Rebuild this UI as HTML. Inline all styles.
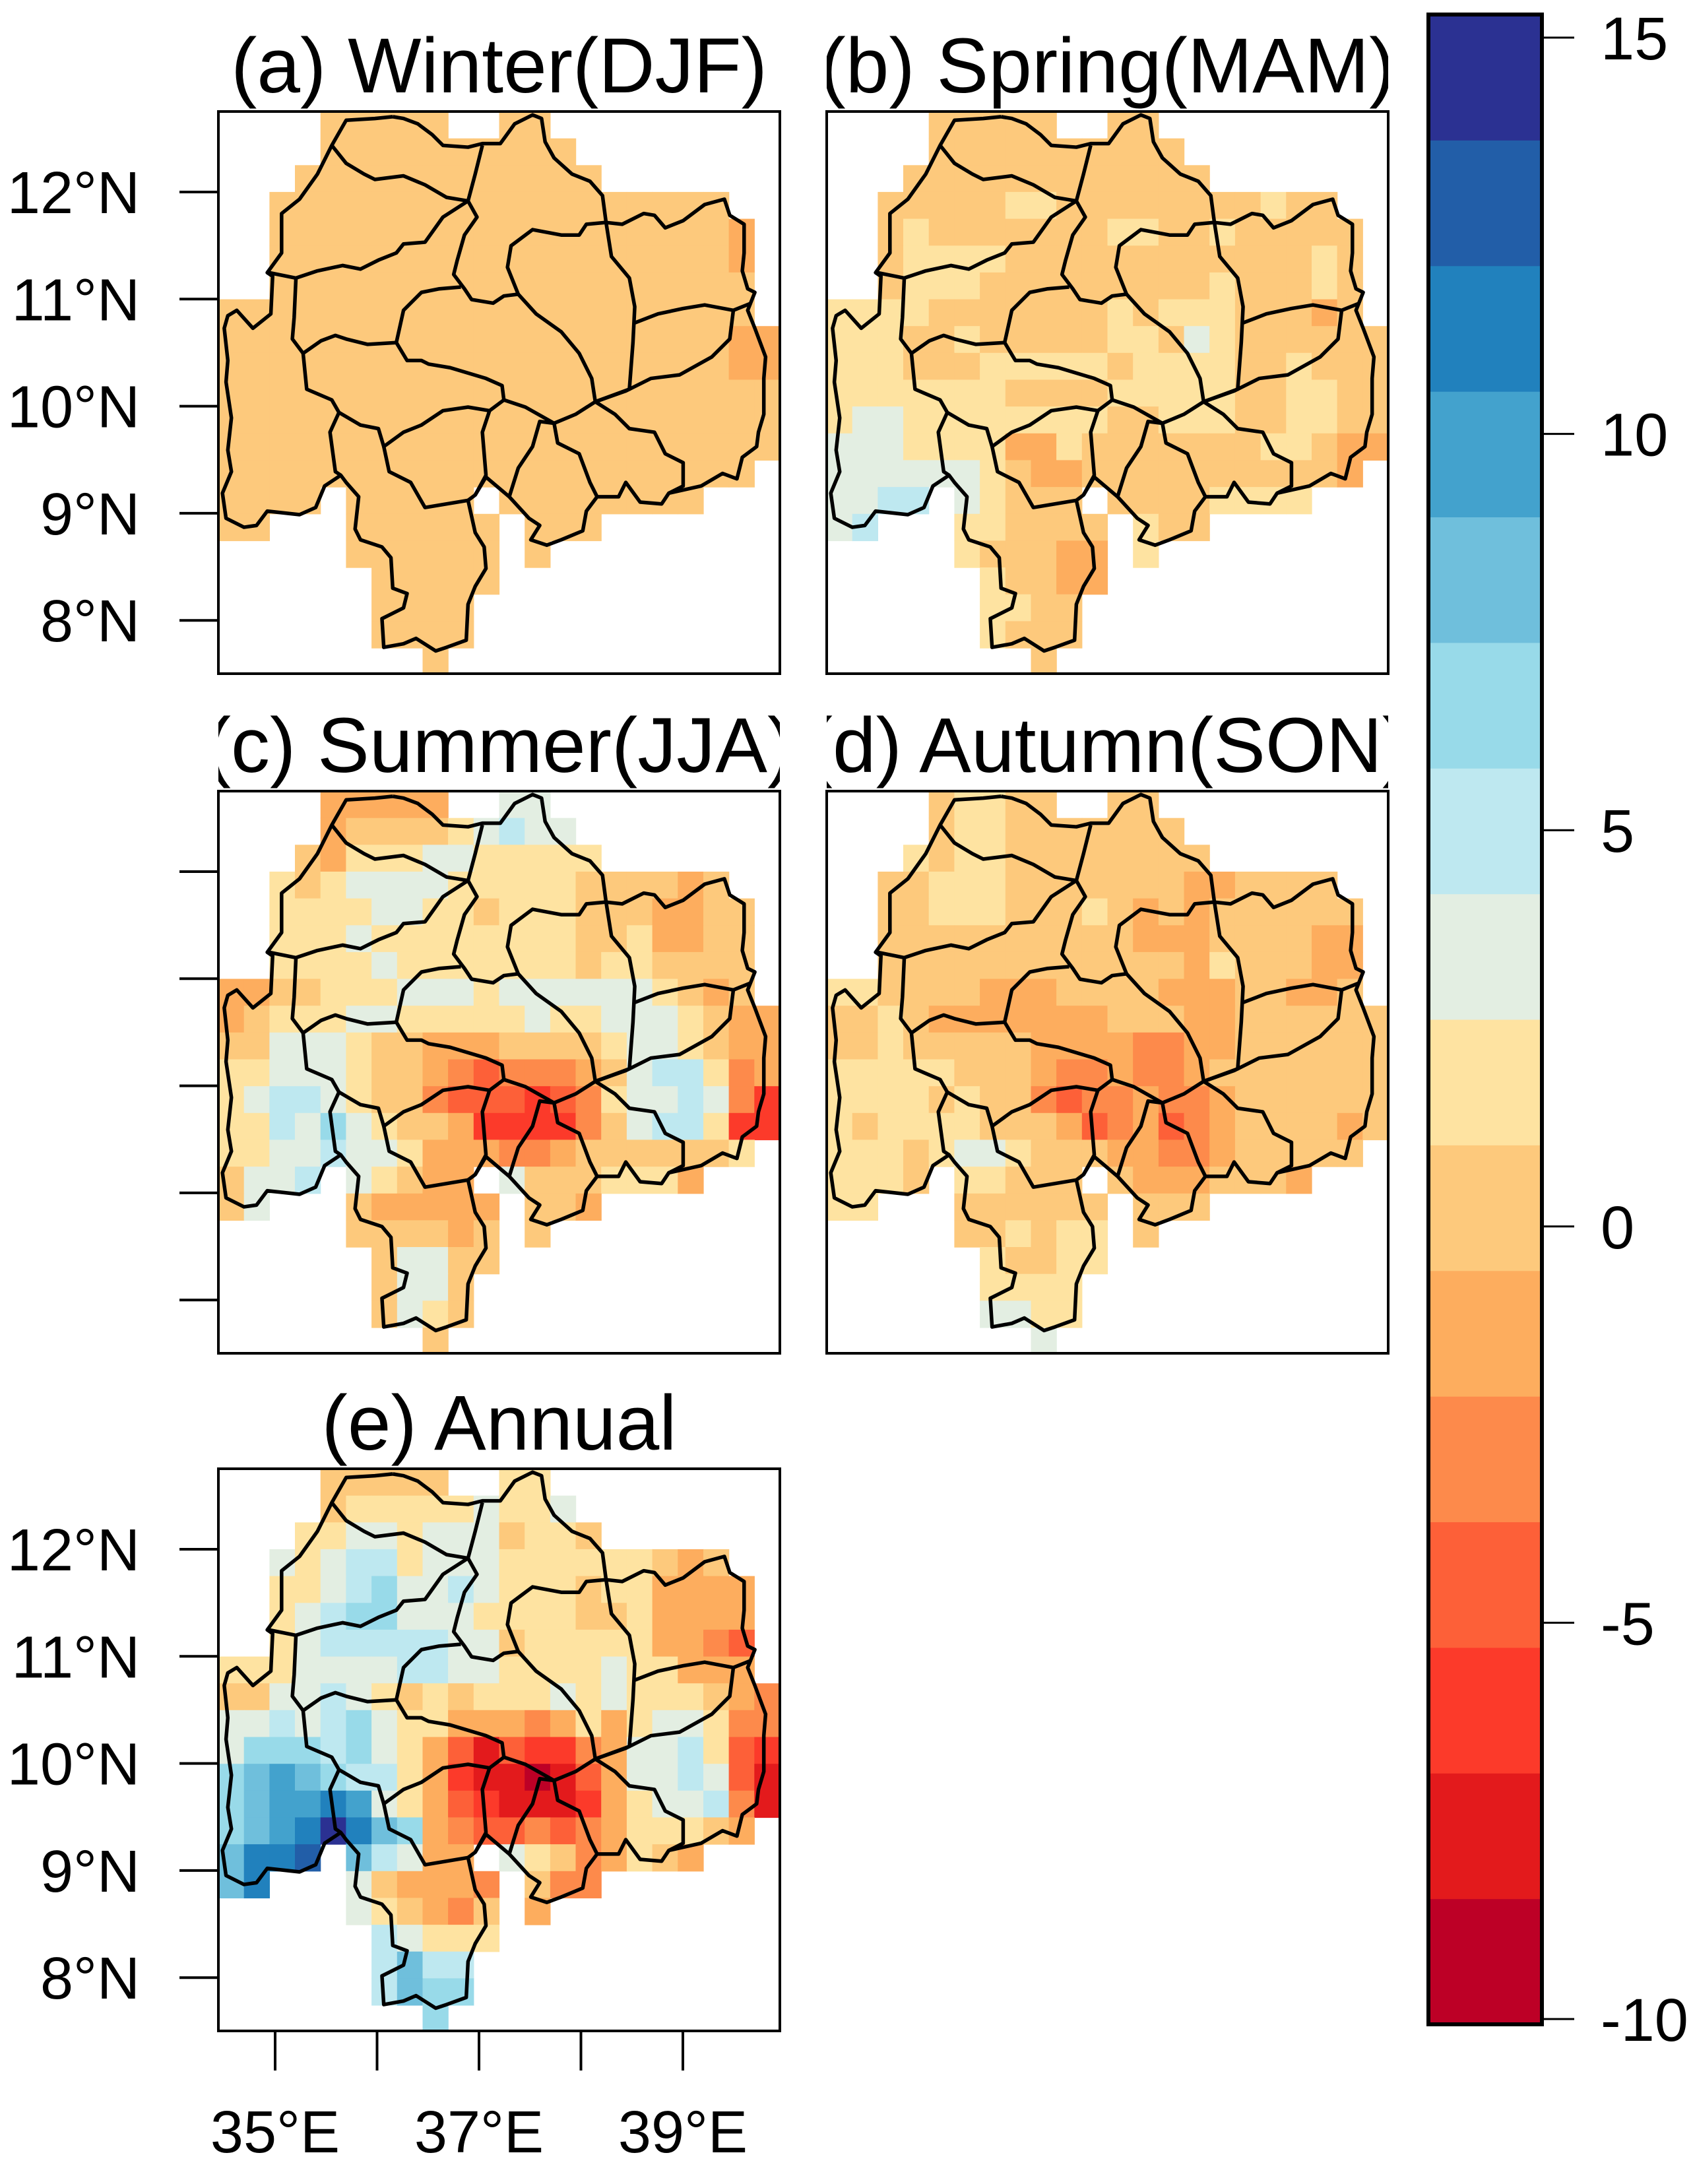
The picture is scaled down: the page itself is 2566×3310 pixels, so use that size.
<!DOCTYPE html>
<html><head><meta charset="utf-8"><title>Seasonal maps</title>
<style>
html,body{margin:0;padding:0;background:#fff;}
svg{display:block;font-family:"Liberation Sans",Arial,sans-serif;}
</style></head>
<body>
<svg id="fig" width="2566" height="3310" viewBox="0 0 2566 3310" xmlns="http://www.w3.org/2000/svg">
<defs>
<g id="basin" fill="none" stroke="#000" stroke-width="5.5" stroke-linejoin="round">
<polyline vector-effect="non-scaling-stroke" points="490,20 520,25 560,40 600,70 630,100 700,105 740,95 790,95 830,40 880,15 905,25 915,90 940,135 990,180 1040,200 1075,240 1085,315 1130,320 1190,290 1220,295 1250,330 1300,310 1360,265 1415,250 1430,295 1470,320 1470,400 1465,450 1480,500 1500,510 1480,560 1500,610 1530,690 1525,750 1525,850 1510,900 1505,940 1465,970 1450,1030 1410,1015 1350,1050 1260,1070 1240,1100 1180,1095 1140,1040 1120,1080 1060,1080 1030,1120 1020,1175 960,1200 920,1215 875,1200 900,1160 870,1140 815,1080 750,1025 720,1075 700,1090 720,1180 745,1220 750,1280 720,1330 700,1380 695,1480 640,1500 610,1510 555,1475 520,1490 465,1500 460,1420 480,1410 520,1390 530,1350 490,1335 485,1250 460,1220 400,1200 385,1170 395,1080 360,1040 345,1020 300,1050 275,1110 230,1130 140,1120 110,1160 75,1165 25,1140 15,1070 40,1010 30,950 40,860 25,760 30,700 20,610 30,575 55,560 100,610 150,570 155,465 140,455 180,400 180,290 230,250 280,180 320,100 360,30 440,25 490,20"/>
<polyline vector-effect="non-scaling-stroke" points="320,100 360,150 410,180 440,195 520,185 580,210 640,245 700,255"/>
<polyline vector-effect="non-scaling-stroke" points="700,255 720,180 740,100"/>
<polyline vector-effect="non-scaling-stroke" points="145,455 220,470 280,450 350,435 400,445 450,420 500,400 520,375 580,370 630,300 700,255"/>
<polyline vector-effect="non-scaling-stroke" points="700,255 725,300 690,350 670,420 660,460 690,500 710,530 770,540 800,520 840,515"/>
<polyline vector-effect="non-scaling-stroke" points="220,470 215,580 210,640 240,680 290,645 330,630 360,640 420,655 500,650"/>
<polyline vector-effect="non-scaling-stroke" points="500,650 520,560 570,510 620,500 680,495"/>
<polyline vector-effect="non-scaling-stroke" points="500,650 530,700 570,700 590,710 650,720 750,750 795,770 800,810"/>
<polyline vector-effect="non-scaling-stroke" points="240,680 250,780 320,810 340,845 400,880 450,890 465,940 520,900 570,880 630,840 700,830 760,840 800,810"/>
<polyline vector-effect="non-scaling-stroke" points="340,845 315,900 330,1010 345,1020"/>
<polyline vector-effect="non-scaling-stroke" points="800,810 860,830 940,875 1000,850 1055,815"/>
<polyline vector-effect="non-scaling-stroke" points="840,515 810,440 820,380 880,335 960,350 1010,350 1030,320 1085,315"/>
<polyline vector-effect="non-scaling-stroke" points="840,515 890,570 960,620 1010,680 1045,750 1055,815"/>
<polyline vector-effect="non-scaling-stroke" points="1085,315 1100,410 1150,470 1165,550 1160,650 1150,780 1055,815"/>
<polyline vector-effect="non-scaling-stroke" points="1165,595 1230,570 1300,555 1360,545 1440,560 1490,540"/>
<polyline vector-effect="non-scaling-stroke" points="1055,815 1140,785 1210,750 1290,740 1380,690 1430,640 1440,560"/>
<polyline vector-effect="non-scaling-stroke" points="1055,815 1110,850 1150,890 1220,900 1250,960 1300,985 1300,1050 1260,1070"/>
<polyline vector-effect="non-scaling-stroke" points="940,875 950,930 1010,960 1040,1040 1060,1080"/>
<polyline vector-effect="non-scaling-stroke" points="940,875 900,870 880,940 840,1000 815,1080"/>
<polyline vector-effect="non-scaling-stroke" points="760,840 740,900 750,1020 720,1075"/>
<polyline vector-effect="non-scaling-stroke" points="465,940 480,1010 540,1040 580,1110 700,1090"/>
</g>
</defs>
<g id="panels"></g>
<g id="cbar"></g>
</svg>
<script>
const palette = ["#bd0026","#e31a1c","#fc3a2a","#fd6038","#fd8a4b","#fdad5e","#fdc97c","#fee3a1","#e3eee2","#bee8f0","#98dae9","#6fbfdc","#43a2cd","#2181bd","#225ea8","#2b3192"];
const classCodes = "abcdefghijklmnop";
const cbarTicks = [15,10,5,0,-5,-10];
const latLabels = ["12°N","11°N","10°N","9°N","8°N"];
const lonTicks = [35,36,37,38,39];
const lonLabels = ["35°E","","37°E","","39°E"];
const titles = ["(a) Winter(DJF)","(b) Spring(MAM)","(c) Summer(JJA)","(d) Autumn(SON)","(e) Annual"];

const gridA = [
"....ggggg..gg.........","....gggggggggg........","...gggggggggggg.......","..gggggggggggggggggg..",
"..ggggggggggggggggggf.","..ggggggggggggggggggf.","..ggggggggggggggggggg.","ggggggggggggggggggggg.",
"ggggggggggggggggggggff","ggggggggggggggggggggff","gggggggggggggggggggggg","gggggggggggggggggggggg",
"gggggggggggggggggggggg","ggggggggggggggggggggg.","gggg.ggggg.gggggggg...","gg...gggggg.ggg.......",
".....gggggg.g.........","......ggggg...........","......gggg............","......gggg............","........g............."];
const gridB = [
"....ggggg..gg.........","....gggggggggg........","...gggggggggggg.......","..ggggghhgggggggghgg..",
"..ghggggggghhgghggggg.","..ghhhhgggggggggggghg.","..ghhhggggggggghggghg.","hhhhggggggghghhhgggfg.",
"hhhgghggggghhgihgggggg","hhhggghhhhhghhhhgghggg","hhhhhhhgggghhhhhgghhgg","hiihhhhhhhhgghhhgghhgg",
"iiihhhhffhggggggghhgff","iiiiiihgffggggggggggf.","iijj.ihggg.gggghhhh...","ij...hhgggg.hgg.......",
".....hgggff.h.........","......hggff...........","......hhgg............","......hggg............","........g............."];
const gridC = [
"....fffff..ii.........","....fgggghijii........","...gfhhhiihhhhh.......","..hghiiiihhhhhggggfg..",
"..hhhhiihhghhhgggffgg.","..hhhihhhhhhhhgghffgg.","..hhhhihhhhhhhghhgggg.","ffgghhhiiihiiiiiihgfg.",
"fghhhiihhhhhihhiiihgff","ggiiihggfffgggghiihgff","hhiiihggfedeeefgijjhef","hijjihggedddcdehiijiec",
"hhjikihggfccccegijjhcc","hhiijiihfffeefggggggh.","giij.ihgff.iggghhhf...","gi...gfffff.ggf.......",
".....ggggfg.g.........","......giigg...........","......giig............","......gihg............","........g............."];
const gridD = [
"....ghhgg..gg.........","....ghhggggggg........","...hghhgggggggg.......","..gghhhgggggggffgggg..",
"..gghhhggghgfgfgggggg.","..ggggggggggfffggggff.","..ggggggggggggfhgggff.","hhggggfffggggfffggffg.",
"gghgfffffffgggffgggggg","gghgggggffffeeffgggggg","hhhhhgggfeefeefggggggg","hhhhghggedeefeefgggggg",
"hghhhhgggfdefdefggggfg","hhhghiihgggffeefggggg.","hhhg.hhggg.gfffgggf...","hh...gggggg.ggg.......",
".....gghghh.g.........","......hgghh...........","......hhhh............","......iihh............","........i............."];
const gridE = [
"....ggggg..hh.........","....ghhhhhihhi........","...hhiihiiighhg.......","..ihijjhiiihhhhhhgfg..",
"..hhijkiijihhhghhffff.","..hijkkiiihhhhgghffff.","..hijjjjjiighhhhhffed.","hhhiiiijjiihhhhihhfff.",
"ggiijihghghhhihihhhgfe","iijijkihhfffefhfhiihee","ikkkjkihfdbdccefiijhdc","klmlkjjhfcbbabdfiijidb",
"klmmnmihfdcbbbcfhiijeb","klmnpnlkfeddedefhhhgf.","lnno.ljiff.ihgefhgf...","ln...igfffe.gee.......",
".....ihgfeg.f.........","......jihhh...........","......jljj............","......jlkk............","........k............."];

const grids = [gridA, gridB, gridC, gridD, gridE];
const panelPos = [[331,169],[1253,169],[331,1199],[1253,1199],[331,2226]];
const PW = 851, PH = 852, NC = 22, NR = 21;
const cellW = PW / NC, cellH = 40.65;
const NS = "http://www.w3.org/2000/svg";
function colX(px, c){ return px + c * cellW; }
function rowY(py, r){ return py + r * cellH; }
function latY(py, lat){ return py + 122 + (12 - lat) * 162.3; }
function lonX(px, lon){ return px + 86 + (lon - 35) * 154.5; }
function mk(tag, attrs, parent){ const e = document.createElementNS(NS, tag); for (const k in attrs) e.setAttribute(k, attrs[k]); parent.appendChild(e); return e; }

const root = document.getElementById('panels');
const panelNames = ['winter','spring','summer','autumn','annual'];
grids.forEach((grid, p) => {
  const [px, py] = panelPos[p];
  const g = mk('g', {}, root);
  
  
  const cp = mk('clipPath', {id: 'clip' + p}, g);
  mk('rect', {x: px, y: py, width: PW, height: PH}, cp);
  const tcp = mk('clipPath', {id: 'tclip' + p}, g);
  mk('rect', {x: px, y: py - 160, width: PW, height: 160}, tcp);
  const cells = mk('g', {'clip-path': 'url(#clip' + p + ')'}, g);
  
  
  grid.forEach((row, r) => {
    for (let c = 0; c < row.length; c++) {
      const idx = classCodes.indexOf(row[c]);
      if (idx < 0) continue;
      const x0 = colX(px, c), y0 = rowY(py, r);
      const rc = mk('rect', {x: x0.toFixed(1), y: y0.toFixed(1), width: (cellW + 0.6).toFixed(1), height: (cellH + 0.6).toFixed(1), fill: palette[idx]}, cells);
      
      
    }
  });
  const lg = mk('g', {'clip-path': 'url(#clip' + p + ')'}, g);
  
  
  const u = mk('use', {href: '#basin', transform: 'translate(' + (px - 2) + ',' + (py - 3) + ') scale(0.5434)'}, lg);
  
  
  const fr = mk('rect', {x: px, y: py, width: PW, height: PH, fill: 'none', stroke: '#000', 'stroke-width': 4}, g);
  
  
  const tg = mk('g', {'clip-path': 'url(#tclip' + p + ')'}, g);
  const t = mk('text', {x: px + PW / 2, y: py - 29, 'text-anchor': 'middle', 'font-size': 118, fill: '#000'}, tg);
  t.textContent = titles[p];
  
  
  if (p === 0 || p === 2 || p === 4) {
    latLabels.forEach((lab, k) => {
      const y = latY(py, 12 - k);
      const tk = mk('line', {x1: px - 59, x2: px, y1: y, y2: y, stroke: '#000', 'stroke-width': 4}, g);
      
      
      if (p !== 2) {
        const tl = mk('text', {x: 212, y: y + 32, 'text-anchor': 'end', 'font-size': 90, fill: '#000'}, g);
        tl.textContent = lab;
        
        
      }
    });
  }
  if (p === 4) {
    lonTicks.forEach((lon, k) => {
      const x = lonX(px, lon);
      const tk = mk('line', {x1: x, x2: x, y1: py + PH, y2: py + PH + 60, stroke: '#000', 'stroke-width': 4}, g);
      
      
      if (lonLabels[k]) {
        const tl = mk('text', {x: x, y: 3262, 'text-anchor': 'middle', 'font-size': 90, fill: '#000'}, g);
        tl.textContent = lonLabels[k];
        
        
      }
    });
  }
});

// colorbar
const cb = document.getElementById('cbar');
const cbX = 2165, cbW = 172, cbTop = 22, cbBot = 3068;
const bandH = (cbBot - cbTop) / palette.length;
for (let i = 0; i < palette.length; i++) {
  const b = mk('rect', {x: cbX, y: (cbBot - (i + 1) * bandH).toFixed(1), width: cbW, height: (bandH + 0.5).toFixed(1), fill: palette[i]}, cb);
  
  
}
const cbo = mk('rect', {x: cbX, y: cbTop, width: cbW, height: cbBot - cbTop, fill: 'none', stroke: '#000', 'stroke-width': 6}, cb);


function cbY(v){ return 57 + (15 - v) * (3060 - 57) / 25; }
cbarTicks.forEach(v => {
  const y = cbY(v);
  const l = mk('line', {x1: cbX + cbW, x2: 2386, y1: y, y2: y, stroke: '#000', 'stroke-width': 3}, cb);
  
  
  const t = mk('text', {x: 2426, y: y + 33, 'font-size': 92, fill: '#000'}, cb);
  t.textContent = String(v);
  
  
});
</script>
</body></html>
